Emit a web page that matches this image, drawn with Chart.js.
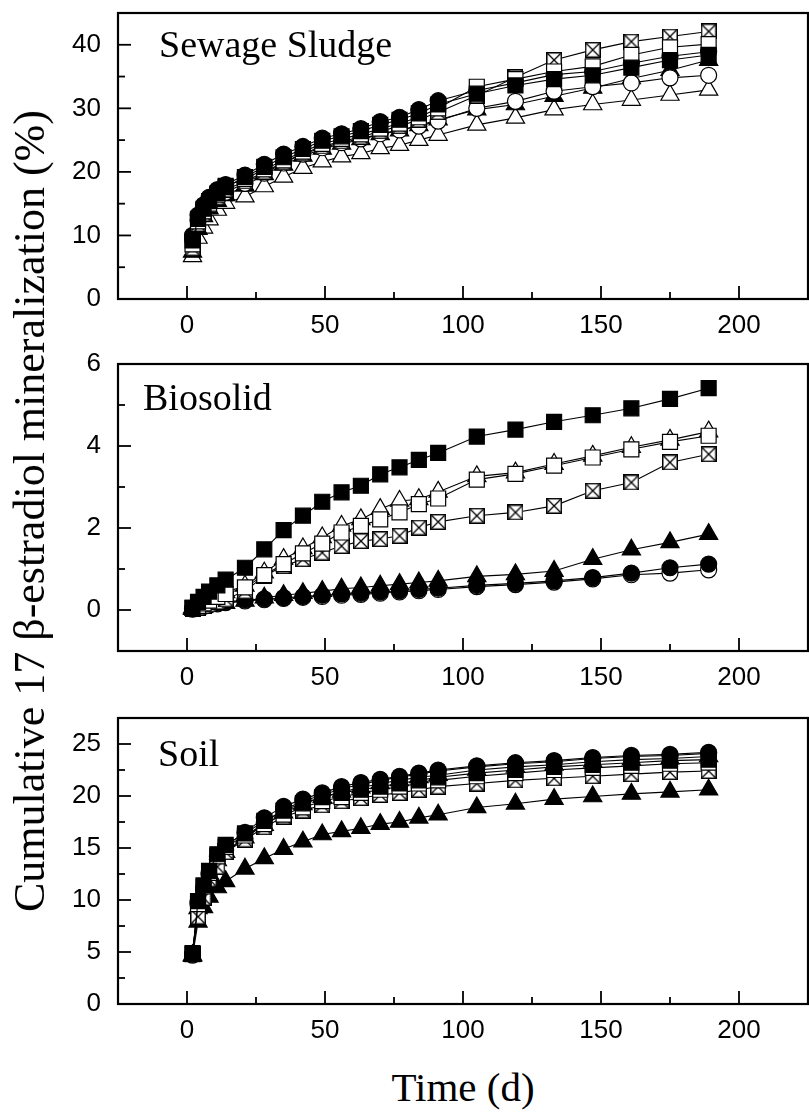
<!DOCTYPE html>
<html>
<head>
<meta charset="utf-8">
<script src="https://cdn.jsdelivr.net/npm/chart.js@4.4.1/dist/chart.umd.min.js"></script>
<style>
  html, body { margin: 0; padding: 0; background: #fff; }
  #wrap { position: relative; width: 809px; height: 1115px; overflow: hidden; }
  #wrap canvas { position: absolute; left: 0; }
  .ytitle {
    position: absolute; left: 30px; top: 511px;
    transform: translate(-50%, -50%) rotate(-90deg);
    font: 44px "Liberation Serif", "Times New Roman", serif;
    line-height: 1; white-space: nowrap; color: #000;
  }
  .xtitle {
    position: absolute; left: 463px; top: 1067px;
    transform: translateX(-50%);
    font: 41px "Liberation Serif", "Times New Roman", serif;
    line-height: 41px; white-space: nowrap; color: #000;
  }
</style>
</head>
<body>
<div id="wrap">
  <canvas id="sludge" width="809" height="345" style="top:0px"></canvas>
  <canvas id="biosolid" width="809" height="352" style="top:345px"></canvas>
  <canvas id="soil" width="809" height="353" style="top:697px"></canvas>
  <div class="ytitle">Cumulative 17 β-estradiol mineralization (%)</div>
  <div class="xtitle">Time (d)</div>
</div>
<script>
// sampling days
const days = [2, 4, 6, 8, 11, 14, 21, 28, 35, 42, 49, 56, 63, 70, 77, 84, 91, 105, 119, 133, 147, 161, 175, 189];
const xTicks = [0, 50, 100, 150, 200];
const sludgeTicks = [0, 10, 20, 30, 40];
const biosolidTicks = [0, 2, 4, 6];
const soilTicks = [0, 5, 10, 15, 20, 25];

// Sewage sludge
const sludgeFilledSquare  = [9.2, 12.6, 14.2, 15.4, 16.6, 17.6, 19.2, 20.8, 22.3, 23.6, 24.9, 25.6, 26.4, 27.4, 28.2, 29.2, 30.6, 32.3, 33.6, 34.6, 35.2, 36.4, 37.6, 38.4];
const sludgeOpenSquare    = [8.6, 12.2, 13.8, 15.0, 16.4, 17.8, 18.9, 20.4, 21.8, 23.2, 24.4, 25.2, 25.9, 26.8, 27.6, 28.6, 30.0, 33.4, 34.6, 35.8, 36.6, 38.4, 39.6, 40.1];
const sludgeCrossSquare   = [8.0, 11.8, 13.4, 14.8, 16.0, 17.2, 18.5, 20.0, 21.5, 22.9, 24.0, 24.8, 25.5, 26.4, 27.2, 28.2, 29.4, 32.0, 34.9, 37.6, 39.2, 40.5, 41.3, 42.1];
const sludgeFilledCircle  = [10.0, 13.2, 14.8, 16.0, 17.2, 18.0, 19.5, 21.2, 22.8, 24.0, 25.3, 26.0, 26.8, 27.9, 28.6, 29.8, 31.2, 32.8, 34.0, 35.3, 35.8, 37.1, 38.2, 38.9];
const sludgeOpenCircle    = [9.4, 12.4, 14.0, 15.0, 16.0, 16.8, 18.2, 19.8, 21.4, 22.8, 23.8, 24.6, 25.2, 26.0, 26.6, 27.2, 28.0, 30.0, 31.1, 32.7, 33.4, 34.0, 34.8, 35.2];
const sludgeFilledTriangle= [7.4, 11.0, 13.0, 14.2, 15.4, 16.3, 17.8, 19.6, 21.1, 22.5, 23.6, 24.4, 25.1, 25.9, 26.5, 27.3, 28.2, 29.8, 30.6, 31.9, 33.2, 34.7, 36.0, 37.6];
const sludgeOpenTriangle  = [6.7, 9.6, 11.2, 12.5, 14.0, 15.1, 16.1, 17.7, 19.2, 20.6, 21.6, 22.4, 22.9, 23.7, 24.2, 25.0, 25.8, 27.4, 28.5, 29.8, 30.6, 31.3, 32.1, 32.9];

// Biosolid
const bioFilledSquare  = [0.05, 0.20, 0.32, 0.45, 0.60, 0.74, 1.03, 1.48, 1.95, 2.30, 2.64, 2.87, 3.03, 3.31, 3.48, 3.66, 3.83, 4.23, 4.40, 4.59, 4.75, 4.92, 5.15, 5.41];
const bioOpenSquare    = [0.05, 0.10, 0.16, 0.23, 0.32, 0.39, 0.55, 0.85, 1.12, 1.38, 1.62, 1.89, 2.05, 2.21, 2.38, 2.58, 2.72, 3.18, 3.32, 3.52, 3.72, 3.92, 4.10, 4.25];
const bioCrossSquare   = [0.03, 0.06, 0.10, 0.14, 0.20, 0.26, 0.46, 0.83, 1.07, 1.24, 1.40, 1.56, 1.68, 1.73, 1.81, 2.01, 2.15, 2.30, 2.38, 2.54, 2.91, 3.11, 3.60, 3.80];
const bioFilledCircle  = [0.03, 0.07, 0.10, 0.13, 0.17, 0.20, 0.24, 0.27, 0.30, 0.33, 0.36, 0.39, 0.41, 0.44, 0.47, 0.50, 0.53, 0.60, 0.65, 0.71, 0.79, 0.90, 1.03, 1.12];
const bioOpenCircle    = [0.02, 0.06, 0.09, 0.12, 0.15, 0.18, 0.22, 0.25, 0.28, 0.31, 0.33, 0.36, 0.38, 0.41, 0.44, 0.47, 0.50, 0.57, 0.62, 0.68, 0.76, 0.86, 0.90, 0.98];
const bioFilledTriangle= [0.02, 0.05, 0.08, 0.11, 0.14, 0.17, 0.22, 0.30, 0.36, 0.41, 0.46, 0.52, 0.55, 0.59, 0.63, 0.67, 0.71, 0.82, 0.87, 0.95, 1.24, 1.47, 1.65, 1.85];
const bioOpenTriangle  = [0.05, 0.10, 0.17, 0.25, 0.35, 0.43, 0.59, 0.91, 1.24, 1.50, 1.77, 2.05, 2.21, 2.46, 2.66, 2.70, 2.88, 3.26, 3.35, 3.56, 3.76, 3.97, 4.15, 4.35];

// Soil
const soilFilledSquare  = [4.8, 9.9, 11.4, 12.8, 14.4, 15.3, 16.4, 17.6, 18.6, 19.3, 19.9, 20.3, 20.6, 20.9, 21.2, 21.5, 21.8, 22.2, 22.5, 22.8, 23.0, 23.2, 23.4, 23.5];
const soilOpenSquare    = [4.9, 9.6, 11.3, 12.6, 14.2, 15.1, 16.2, 17.3, 18.2, 18.9, 19.5, 19.9, 20.3, 20.6, 20.9, 21.2, 21.5, 21.9, 22.2, 22.5, 22.7, 22.9, 23.1, 23.2];
const soilCrossSquare   = [4.8, 8.4, 10.2, 12.0, 13.2, 14.6, 15.8, 17.0, 18.0, 18.6, 19.1, 19.5, 19.8, 20.1, 20.3, 20.6, 20.9, 21.2, 21.5, 21.7, 21.9, 22.1, 22.3, 22.4];
const soilFilledCircle  = [4.8, 9.8, 11.2, 12.6, 14.2, 15.2, 16.5, 17.9, 19.0, 19.7, 20.3, 20.9, 21.3, 21.6, 21.9, 22.2, 22.5, 22.9, 23.2, 23.4, 23.7, 23.9, 24.0, 24.2];
const soilOpenCircle    = [4.7, 9.6, 11.0, 12.4, 13.9, 14.8, 15.9, 17.4, 18.7, 19.5, 20.1, 20.7, 21.1, 21.5, 21.8, 22.1, 22.4, 22.8, 23.1, 23.3, 23.6, 23.8, 23.9, 24.1];
const soilFilledTriangle= [4.6, 7.9, 9.3, 10.3, 11.2, 11.8, 13.0, 14.0, 14.9, 15.6, 16.3, 16.6, 16.9, 17.3, 17.5, 17.9, 18.2, 18.9, 19.25, 19.7, 19.95, 20.2, 20.4, 20.6];
const soilOpenTriangle  = [4.7, 9.2, 10.9, 12.2, 13.8, 14.6, 16.0, 17.2, 18.4, 19.2, 19.9, 20.4, 20.8, 21.2, 21.5, 21.8, 22.0, 22.5, 22.8, 23.0, 23.3, 23.5, 23.6, 23.8];

// boxed-X marker
function crossBox(size) {
  const c = document.createElement('canvas');
  c.width = size; c.height = size;
  const g = c.getContext('2d');
  g.fillStyle = '#fff';
  g.fillRect(0, 0, size, size);
  g.strokeStyle = '#000';
  g.lineWidth = 1.5;
  g.strokeRect(0.75, 0.75, size - 1.5, size - 1.5);
  g.lineWidth = 1.3;
  g.beginPath();
  g.moveTo(1.5, 1.5); g.lineTo(size - 1.5, size - 1.5);
  g.moveTo(size - 1.5, 1.5); g.lineTo(1.5, size - 1.5);
  g.stroke();
  return c;
}
const xBox = crossBox(16);

const markers = [
  { style: 'rect', r: 10.6, fill: '#000' },
  { style: 'rect', r: 10.6, fill: '#fff' },
  { style: xBox, r: 8, fill: '#fff' },
  { style: 'circle', r: 8, fill: '#000' },
  { style: 'circle', r: 8, fill: '#fff' },
  { style: 'triangle', r: 10.5, fill: '#000' },
  { style: 'triangle', r: 10.5, fill: '#fff' }
];

// frame, inward major/minor ticks, panel label
const framePlugin = {
  id: 'framePlugin',
  afterDraw(chart) {
    const { ctx, chartArea: a, scales } = chart;
    ctx.save();
    ctx.strokeStyle = '#000';
    ctx.lineWidth = 1.8;
    const inward = (scale, horizontal) => {
      const vals = scale.ticks.map(t => t.value);
      const half = (vals[1] - vals[0]) / 2;
      for (let k = -2; k <= 2 * (vals.length - 1) + 2; k++) {
        const v = vals[0] + k * half;
        if (v <= scale.min || v >= scale.max) continue;
        const len = k % 2 === 0 ? 13 : 7;
        const p = scale.getPixelForValue(v);
        ctx.beginPath();
        if (horizontal) { ctx.moveTo(p, a.bottom); ctx.lineTo(p, a.bottom - len); }
        else { ctx.moveTo(a.left, p); ctx.lineTo(a.left + len, p); }
        ctx.stroke();
      }
    };
    inward(scales.x, true);
    inward(scales.y, false);
    ctx.lineWidth = 2.2;
    ctx.strokeRect(a.left, a.top, a.right - a.left, a.bottom - a.top);
    const lab = chart.options.plugins.framePlugin;
    ctx.fillStyle = '#000';
    ctx.font = '38px "Liberation Serif", "Times New Roman", serif';
    ctx.textBaseline = 'alphabetic';
    ctx.textAlign = 'left';
    ctx.fillText(lab.text, a.left + lab.dx, a.top + lab.dy);
    ctx.restore();
  }
};

function noPad(s) {
  s.paddingTop = 0; s.paddingBottom = 0; s.paddingLeft = 0; s.paddingRight = 0;
}

function panel(id, label, dx, dy, padTop, yMin, yMax, yTicks, series) {
  new Chart(document.getElementById(id), {
    type: 'line',
    data: {
      datasets: series.map((vals, i) => ({
        data: days.map((d, j) => ({ x: d, y: vals[j] })),
        pointStyle: markers[i].style,
        pointRadius: markers[i].r,
        pointBackgroundColor: markers[i].fill,
        pointBorderColor: '#000',
        pointBorderWidth: 1.2,
        borderColor: '#000',
        borderWidth: 1.1,
        tension: 0,
        fill: false
      }))
    },
    options: {
      responsive: false,
      animation: false,
      events: [],
      layout: { autoPadding: false, padding: { top: padTop, right: 1, left: 0, bottom: 0 } },
      plugins: {
        legend: { display: false },
        tooltip: { enabled: false },
        framePlugin: { text: label, dx: dx, dy: dy }
      },
      scales: {
        x: {
          type: 'linear', min: -25, max: 225,
          afterBuildTicks: s => { s.ticks = xTicks.map(v => ({ value: v })); },
          afterFit: s => { s.height = 46; noPad(s); },
          grid: { display: false, drawTicks: false },
          border: { display: false },
          ticks: { color: '#000', font: { family: 'Liberation Sans', size: 26 }, padding: 11, maxRotation: 0, autoSkip: false }
        },
        y: {
          type: 'linear', min: yMin, max: yMax,
          afterBuildTicks: s => { s.ticks = yTicks.map(v => ({ value: v })); },
          afterFit: s => { s.width = 118; noPad(s); },
          grid: { display: false, drawTicks: false },
          border: { display: false },
          ticks: { color: '#000', font: { family: 'Liberation Sans', size: 26 }, padding: 17, autoSkip: false }
        }
      }
    },
    plugins: [framePlugin]
  });
}

panel('sludge', 'Sewage Sludge', 41, 44, 13, 0, 45, sludgeTicks,
  [sludgeFilledSquare, sludgeOpenSquare, sludgeCrossSquare, sludgeFilledCircle, sludgeOpenCircle, sludgeFilledTriangle, sludgeOpenTriangle]);
panel('biosolid', 'Biosolid', 25, 46, 19, -1, 6, biosolidTicks,
  [bioFilledSquare, bioOpenSquare, bioCrossSquare, bioFilledCircle, bioOpenCircle, bioFilledTriangle, bioOpenTriangle]);
panel('soil', 'Soil', 40, 48, 21, 0, 27.5, soilTicks,
  [soilFilledSquare, soilOpenSquare, soilCrossSquare, soilFilledCircle, soilOpenCircle, soilFilledTriangle, soilOpenTriangle]);
</script>
</body>
</html>
